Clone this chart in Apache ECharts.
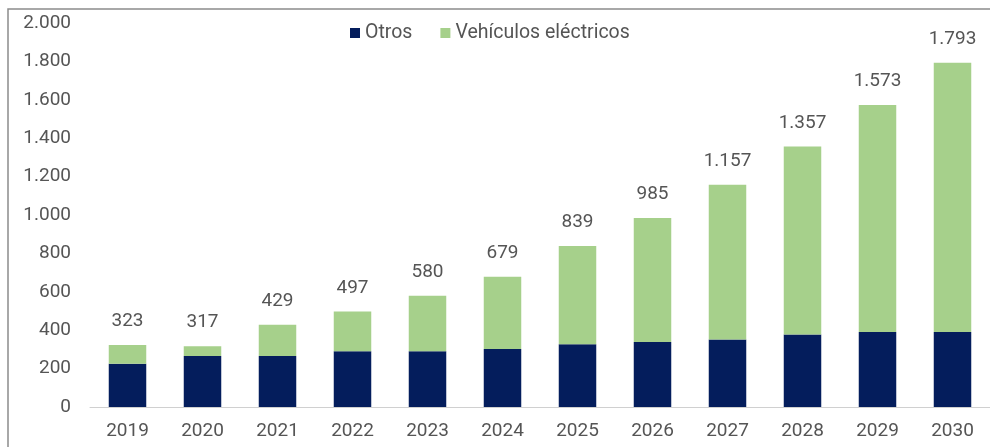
<!DOCTYPE html>
<html>
<head>
<meta charset="utf-8">
<script src="https://cdn.jsdelivr.net/npm/echarts@6/dist/echarts.min.js"></script>
<style>
  html, body { margin: 0; padding: 0; background: #fff; }
  #chart { width: 990px; height: 447px; }
</style>
</head>
<body>
<div id="chart"></div>
<script>
// datos
var years = ['2019', '2020', '2021', '2022', '2023', '2024', '2025', '2026', '2027', '2028', '2029', '2030'];
var otros = [225, 265, 265, 290, 290, 302, 327, 339, 351, 378, 390, 390];
var electricos = [98, 52, 164, 207, 290, 377, 512, 646, 806, 979, 1183, 1403];
var totales = [323, 317, 429, 497, 580, 679, 839, 985, 1157, 1357, 1573, 1793];
var yTicks = [0, 200, 400, 600, 800, 1000, 1200, 1400, 1600, 1800, 2000];

function miles(v) {
    // separador de miles con punto
    return String(v).replace(/\B(?=(\d{3})+(?!\d))/g, '.');
}

var chart = echarts.init(document.getElementById('chart'));
var textColor = '#555555';
var font = 'Roboto, "Noto Sans", sans-serif';

var option = {
    animation: false,
    textStyle: { fontFamily: font },
    graphic: [{
        type: 'rect',
        shape: { x: 8, y: 9, width: 1000, height: 460 },
        style: { fill: 'none', stroke: '#8c8c8c', lineWidth: 1.5 },
        silent: true
    }],
    legend: {
        left: 345,
        top: 18,
        itemWidth: 10,
        itemHeight: 10,
        itemGap: 28,
        icon: 'rect',
        textStyle: { color: textColor, fontSize: 19.5, fontFamily: font },
        data: ['Otros', 'Vehículos eléctricos']
    },
    grid: {
        left: 90,
        top: 23,
        width: 904,
        height: 384,
        containLabel: false
    },
    xAxis: {
        type: 'category',
        data: years,
        axisLine: { lineStyle: { color: '#d0d0d0', width: 1 } },
        axisTick: { show: false },
        axisLabel: { color: textColor, fontSize: 19, margin: 15, fontFamily: font }
    },
    yAxis: {
        type: 'value',
        min: 0,
        max: 2000,
        interval: 200,
        splitLine: { show: false },
        axisLine: { show: false },
        axisTick: { show: false },
        axisLabel: {
            color: textColor,
            fontSize: 19,
            margin: 19,
            fontFamily: font,
            formatter: function (v) {
                return yTicks.indexOf(v) >= 0 ? miles(v) : '';
            }
        }
    },
    series: [
        {
            name: 'Otros',
            type: 'bar',
            stack: 'total',
            barWidth: '50%',
            itemStyle: { color: '#041d5c' },
            data: otros
        },
        {
            name: 'Vehículos eléctricos',
            type: 'bar',
            stack: 'total',
            barWidth: '50%',
            itemStyle: { color: '#a6d08b' },
            label: {
                show: true,
                position: 'top',
                distance: 14,
                color: textColor,
                fontSize: 19,
                fontFamily: font,
                formatter: function (p) {
                    return miles(totales[p.dataIndex]);
                }
            },
            data: electricos
        }
    ]
};
chart.setOption(option);
</script>
</body>
</html>
